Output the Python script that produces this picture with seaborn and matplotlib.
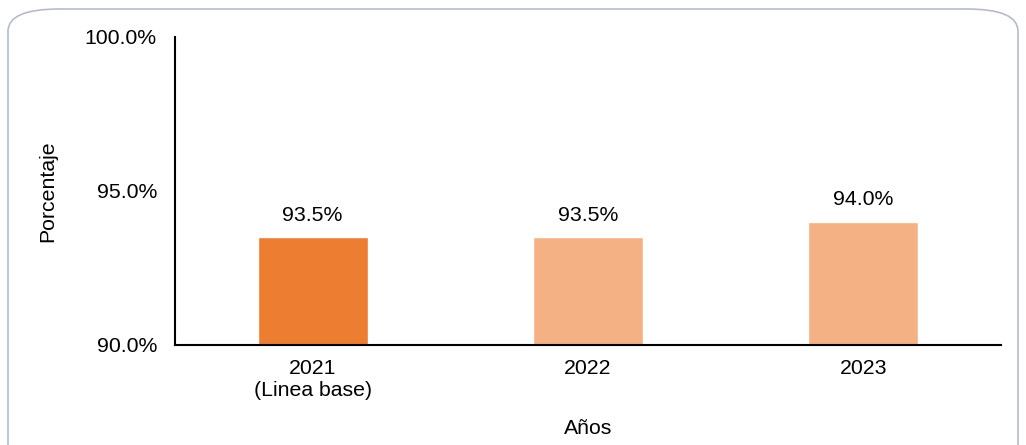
import pandas as pd
import seaborn as sns
import matplotlib.pyplot as plt
from matplotlib.patches import FancyBboxPatch
from matplotlib.ticker import FuncFormatter

anios = ['2021\n(Linea base)', '2022', '2023']
porcentaje = [93.5, 93.5, 94.0]
colores = ['#ED7D31', '#F4B183', '#F4B183']

df = pd.DataFrame({'Año': anios, 'Porcentaje': porcentaje})

sns.set_theme(style="white")
plt.rcParams['font.family'] = ['Liberation Sans', 'DejaVu Sans']
plt.rcParams['text.color'] = 'black'
plt.rcParams['axes.labelcolor'] = 'black'

fs = 15.3

fig = plt.figure(figsize=(10.26, 4.45), dpi=100)
ax = fig.add_axes([175 / 1026, 100 / 445, 826 / 1026, 308 / 445])

sns.barplot(data=df, x='Año', y='Porcentaje', hue='Año', palette=colores,
            width=0.4, saturation=1, legend=False, ax=ax, bottom=0)

ax.set_ylim(90, 100)
ax.set_yticks([90, 95, 100])
ax.yaxis.set_major_formatter(FuncFormatter(lambda v, p: f'{v:.1f}%'))
ax.tick_params(axis='y', length=0, labelsize=fs, colors='black', pad=13)
ax.tick_params(axis='x', length=0, labelsize=fs, colors='black', pad=10)

for p, v in zip(ax.patches, porcentaje):
    ax.annotate(f'{v:.1f}%', (p.get_x() + p.get_width() / 2, p.get_height()),
                xytext=(0, 9), textcoords='offset points',
                ha='center', va='bottom', fontsize=fs)

for s in ['top', 'right']:
    ax.spines[s].set_visible(False)
for s in ['left', 'bottom']:
    ax.spines[s].set_color('black')
    ax.spines[s].set_linewidth(1.5)

ax.set_ylabel('Porcentaje', fontsize=fs, labelpad=20)
ax.set_xlabel('Años', fontsize=fs, labelpad=14)

# marco redondeado
marco = FancyBboxPatch((8 / 1026, -0.05), 1010 / 1026, (436 / 445) + 0.05,
                       boxstyle='round,pad=0,rounding_size=0.05',
                       transform=fig.transFigure, facecolor='none',
                       edgecolor='#B4BCCC', linewidth=1.2, mutation_aspect=445 / 1026 * 2.3)
fig.patches.append(marco)

fig.savefig('out.png', dpi=100)
